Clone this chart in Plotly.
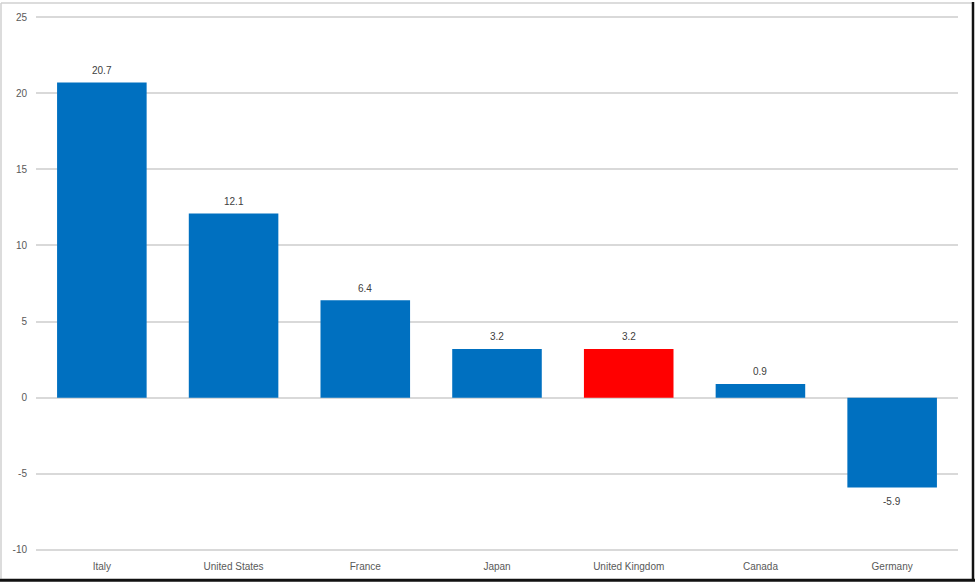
import plotly.graph_objects as go

countries = ["Italy", "United States", "France", "Japan", "United Kingdom", "Canada", "Germany"]
values = [20.7, 12.1, 6.4, 3.2, 3.2, 0.9, -5.9]
highlight = "United Kingdom"
colors = ["#FF0000" if c == highlight else "#0070C0" for c in countries]
tick_vals = [-10, -5, 0, 5, 10, 15, 20, 25]
tick_text = ["-10", "-5", "0", "5", "10", "15", "20", "25"]

L, R, T, B = 36, 17, 12, 30
W, H = 975, 584
pw, ph = W - L - R, H - T - B

def px_x(p):
    return (p - L) / pw

def px_y(p):
    return (H - B - p) / ph

fig = go.Figure(go.Bar(
    x=countries, y=values, marker_color=colors, marker_line_width=0, cliponaxis=False,
))

annotations = [
    dict(x=c, y=v, xref="x", yref="y", text=f"{v:.1f}", showarrow=False,
         yshift=12 if v >= 0 else -14, font=dict(size=10, color="#404040"))
    for c, v in zip(countries, values)
]

shapes = [
    dict(type="line", xref="paper", yref="paper", x0=px_x(1), x1=px_x(1), y0=px_y(1), y1=px_y(580),
         line=dict(color="#D0D0D0", width=1.5)),
    dict(type="line", xref="paper", yref="paper", x0=px_x(1), x1=px_x(973), y0=px_y(1), y1=px_y(1),
         line=dict(color="#D0D0D0", width=1.5)),
    dict(type="line", xref="paper", yref="paper", x0=px_x(973), x1=px_x(973), y0=px_y(0), y1=px_y(582),
         line=dict(color="#111111", width=2.5)),
    dict(type="line", xref="paper", yref="paper", x0=px_x(0), x1=px_x(975), y0=px_y(581.5), y1=px_y(581.5),
         line=dict(color="#111111", width=3)),
]

fig.update_layout(
    width=W, height=H, margin=dict(l=L, r=R, t=T, b=B),
    paper_bgcolor="white", plot_bgcolor="white",
    bargap=0.32, showlegend=False,
    font=dict(family="Liberation Sans, Arial, sans-serif", size=10, color="#595959"),
    xaxis=dict(showgrid=False, showline=False, ticks="", ticklabelstandoff=6,
               tickfont=dict(size=10, color="#595959")),
    yaxis=dict(range=[-10.2, 25.2], tickvals=tick_vals, ticktext=tick_text, showgrid=True,
               gridcolor="#D9D9D9", gridwidth=1.5,
               zeroline=True, zerolinecolor="#D9D9D9", zerolinewidth=1.5, ticks="", ticklen=0,
               ticklabelstandoff=8, tickfont=dict(size=10, color="#595959")),
    shapes=shapes,
    annotations=annotations,
)

fig.write_html("out.html")
